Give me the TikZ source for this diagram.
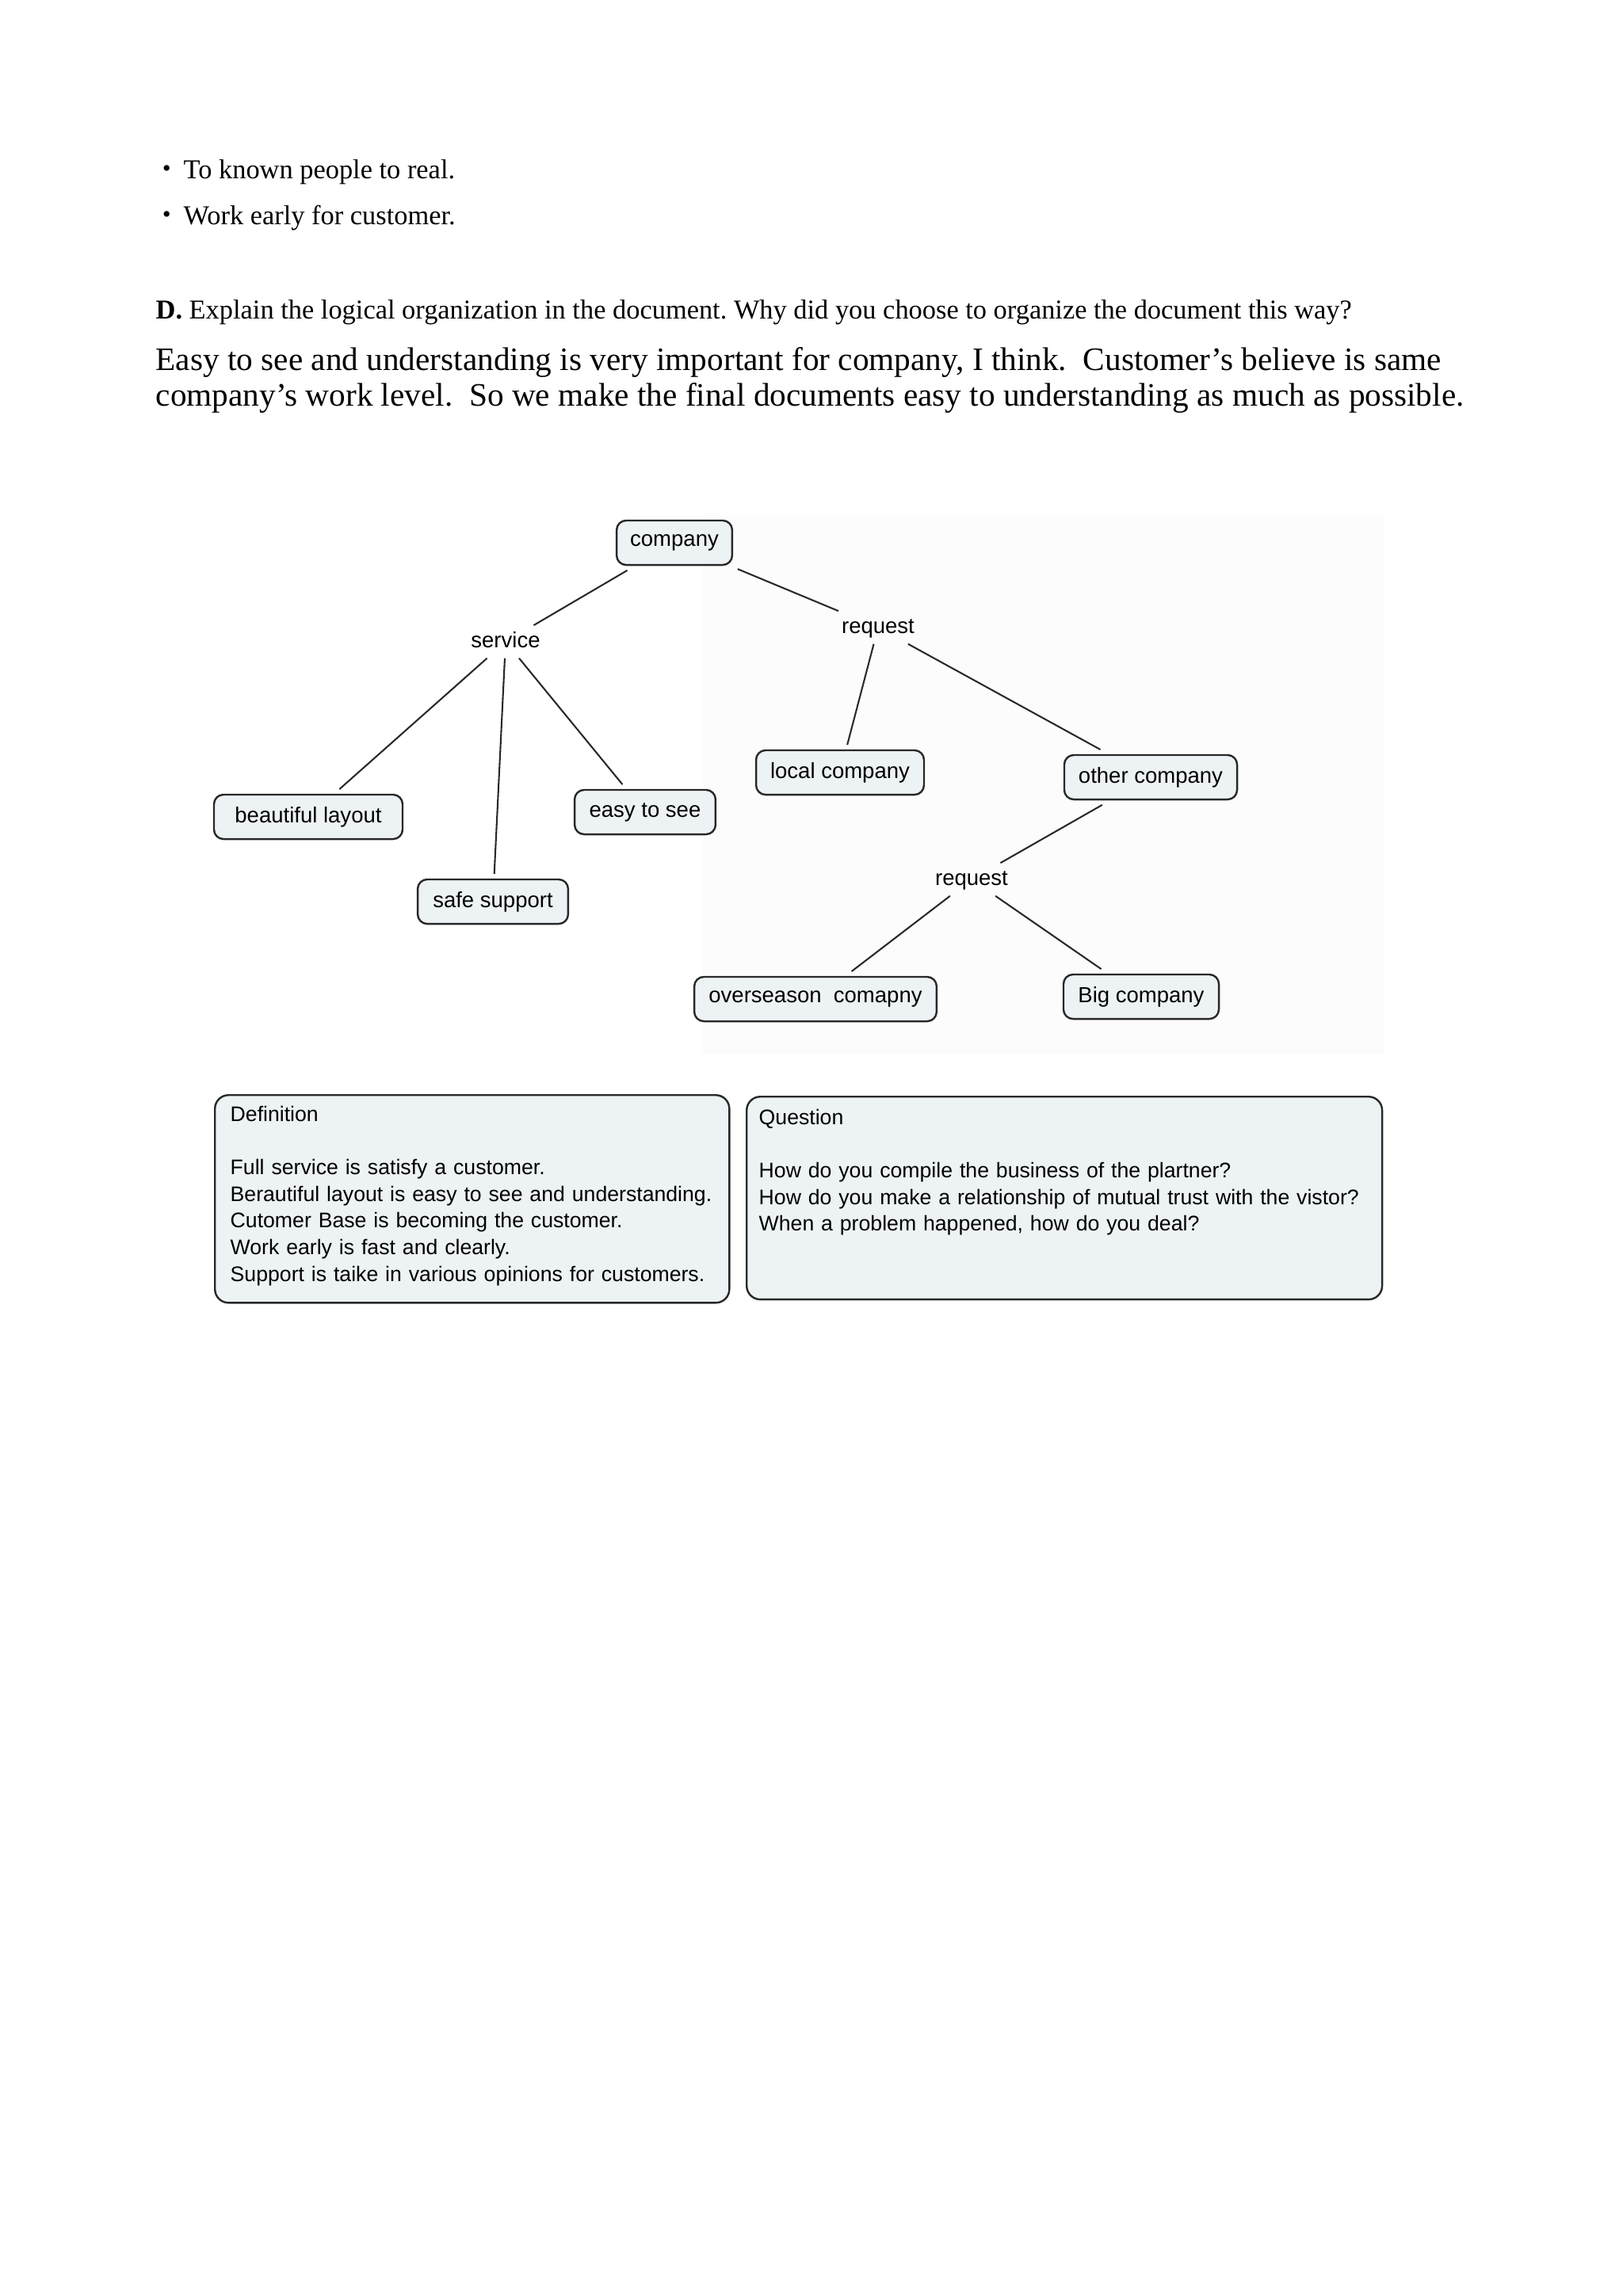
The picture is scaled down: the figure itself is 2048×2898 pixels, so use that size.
\documentclass[tikz,border=0pt]{standalone}
\usepackage{fontspec}
\setmainfont{Liberation Serif}
\setsansfont{Liberation Sans}
\newfontfamily\cjk{Noto Sans CJK JP}
\frenchspacing
\definecolor{boxfill}{RGB}{237,242,244}
\definecolor{edge}{RGB}{40,40,40}
\definecolor{mapbg}{RGB}{252,252,253}
\begin{document}
\begin{tikzpicture}[x=0.2907pt,y=-0.2907pt,
  mapfont/.style={font=\sffamily\fontsize{8}{9.8}\selectfont},
  mapbox/.style={mapfont, draw=edge, line width=0.7pt, fill=boxfill, rounded corners=3.5pt, minimum height=16.3pt, inner sep=0pt, outer sep=2pt},
  maplabel/.style={mapfont, inner xsep=1pt, inner ysep=2pt, text height=6pt, text depth=1.7pt},
  link/.style={draw=edge, line width=0.6pt},
  infobox/.style={draw=edge, line width=0.7pt, fill=boxfill, rounded corners=5pt, inner sep=0pt, anchor=north west},
  infotext/.style={font=\sffamily\fontsize{7.75}{9.8}\selectfont, align=left, inner sep=0pt, anchor=base west},
  bodytext/.style={inner sep=0pt, anchor=base west}
]
\useasboundingbox (0,0) rectangle (2048,2898);
\fill[white] (0,0) rectangle (2048,2898);

% ---- text above the map ----
\node[inner sep=0pt, anchor=base, font=\cjk\fontsize{10}{13}\selectfont] (dot1) at (211,225) {・};
\node[bodytext, font=\fontsize{10}{13}\selectfont] (b1) at (231,225) {To known people to real.};
\node[inner sep=0pt, anchor=base, font=\cjk\fontsize{10}{13}\selectfont] (dot2) at (211,283) {・};
\node[bodytext, font=\fontsize{10}{13}\selectfont] (b2) at (231,283) {Work early for customer.};
\node[bodytext, font=\fontsize{10}{13}\selectfont] (dq) at (196,402) {\textbf{D.} Explain the logical organization in the document. Why did you choose to organize the document this way?};
\node[bodytext, font=\fontsize{12}{13}\selectfont] (p1) at (196,467) {Easy to see and understanding is very important for company, I think.~ Customer’s believe is same};
\node[bodytext, font=\fontsize{12}{13}\selectfont] (p2) at (196,512) {company’s work level.~ So we make the final documents easy to understanding as much as possible.};

% ---- concept map ----
\fill[mapbg] (887,650) rectangle (1747,1331);
\node[mapbox, minimum width=42.4pt] (company) at (851,685) {company};
\node[maplabel] (service) at (638,810) {service};
\node[maplabel] (req1) at (1108,792) {request};
\node[mapbox, minimum width=69.2pt] (beautiful) at (389,1031) {beautiful layout};
\node[mapbox, minimum width=55.2pt] (safe) at (622,1138) {safe support};
\node[mapbox, minimum width=51.7pt] (easy) at (814,1025) {easy to see};
\node[mapbox, minimum width=61.6pt] (local) at (1060,975) {local company};
\node[mapbox, minimum width=63.4pt] (other) at (1452,981) {other company};
\node[maplabel] (req2) at (1226,1110) {request};
\node[mapbox, minimum width=88.9pt] (overseas) at (1029,1261) {overseason\ \ comapny};
\node[mapbox, minimum width=57pt] (big) at (1440,1258) {Big company};

\draw[link] (company) -- (service);
\draw[link] (company) -- (req1);
\draw[link] (service) -- (beautiful);
\draw[link] (service) -- (safe);
\draw[link] (service) -- (easy);
\draw[link] (req1) -- (local);
\draw[link] (req1) -- (other);
\draw[link] (other) -- (req2);
\draw[link] (req2) -- (overseas);
\draw[link] (req2) -- (big);

% ---- info boxes ----
\node[infobox, minimum width=188.7pt, minimum height=76.2pt] (defbox) at (270,1381) {};
\node[infotext, text width=200pt] (deftext) at (290,1415) {Definition\\[9.8pt]Full service is satisfy a customer.\\Berautiful layout is easy to see and understanding.\\Cutomer Base is becoming the customer.\\Work early is fast and clearly.\\Support is taike in various opinions for customers.};
\node[infobox, minimum width=233.1pt, minimum height=74.4pt] (qbox) at (941,1383) {};
\node[infotext, text width=240pt] (qtext) at (957,1419) {Question\\[9.8pt]How do you compile the business of the plartner?\\How do you make a relationship of mutual trust with the vistor?\\When a problem happened, how do you deal?};
\end{tikzpicture}
\end{document}
